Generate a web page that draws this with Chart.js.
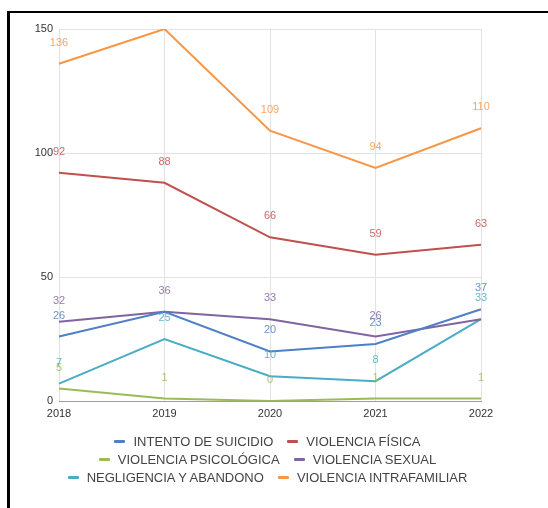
<!DOCTYPE html>
<html>
<head>
<meta charset="utf-8">
<script src="https://cdn.jsdelivr.net/npm/chart.js@4.4.0/dist/chart.umd.min.js"></script>
<style>
  html, body { margin: 0; padding: 0; background: #fff; }
  #wrap { position: relative; width: 548px; height: 508px; overflow: hidden; }
  #frame { position: absolute; left: 7px; top: 11px; width: 600px; height: 600px;
           border-left: 3px solid #000; border-top: 2px solid #000; box-sizing: border-box; }
  #c { position: absolute; left: 0; top: 0; }
  #legend { position: absolute; left: 0; top: 432px; width: 535px;
            font-family: "Liberation Sans", Arial, sans-serif; font-size: 13px; color: #444; }
  .row { display: flex; justify-content: center; align-items: center; height: 18px; }
  .item { display: flex; align-items: center; margin: 0 7px; white-space: nowrap; }
  .mk { width: 11px; height: 3px; border-radius: 1px; margin-right: 8px; }
</style>
</head>
<body>
<div id="wrap">
  <div id="frame"></div>
  <canvas id="c" width="548" height="508"></canvas>
  <div id="legend"></div>
</div>
<script>
const years = ['2018', '2019', '2020', '2021', '2022'];
const seriesNames = ['INTENTO DE SUICIDIO', 'VIOLENCIA FÍSICA', 'VIOLENCIA PSICOLÓGICA',
                     'VIOLENCIA SEXUAL', 'NEGLIGENCIA Y ABANDONO', 'VIOLENCIA INTRAFAMILIAR'];
const intentoSuicidio = [26, 36, 20, 23, 37];
const violenciaFisica = [92, 88, 66, 59, 63];
const violenciaPsicologica = [5, 1, 0, 1, 1];
const violenciaSexual = [32, 36, 33, 26, 33];
const negligenciaAbandono = [7, 25, 10, 8, 33];
const violenciaIntrafamiliar = [136, 150, 109, 94, 110];
const yTicks = [0, 50, 100, 150];
const colors = ['#4f7fc6', '#c0504d', '#9bbb59', '#8064a2', '#4bacc6', '#f79646'];

const allValues = [intentoSuicidio, violenciaFisica, violenciaPsicologica,
                   violenciaSexual, negligenciaAbandono, violenciaIntrafamiliar];

const datasets = allValues.map((vals, i) => ({
  label: seriesNames[i],
  data: vals,
  borderColor: colors[i],
  backgroundColor: colors[i],
  borderWidth: 2,
  pointRadius: 0,
  tension: 0,
  fill: false
}));

const labelPlugin = {
  id: 'valueLabels',
  afterDatasetsDraw(chart) {
    const ctx = chart.ctx;
    const a = chart.chartArea;
    // collect labels; where two are at the same spot keep the later one
    const items = new Map();
    chart.data.datasets.forEach((ds, i) => {
      const meta = chart.getDatasetMeta(i);
      meta.data.forEach((pt, j) => {
        const key = Math.round(pt.x) + ',' + Math.round(pt.y);
        items.delete(key);
        items.set(key, { x: pt.x, y: pt.y - 21, text: String(ds.data[j]), color: ds.borderColor });
      });
    });
    ctx.save();
    ctx.beginPath();
    ctx.rect(0, a.top, chart.width, a.bottom - a.top);
    ctx.clip();
    ctx.font = '11px "Liberation Sans", Arial, sans-serif';
    ctx.textAlign = 'center';
    ctx.textBaseline = 'middle';
    ctx.globalAlpha = 0.85;
    items.forEach(it => {
      ctx.fillStyle = it.color;
      ctx.fillText(it.text, it.x, it.y);
    });
    ctx.restore();
  }
};

new Chart(document.getElementById('c'), {
  type: 'line',
  data: { labels: years, datasets },
  options: {
    responsive: false,
    animation: false,
    layout: { padding: { top: 29, left: 0, right: 13, bottom: 0 } },
    plugins: { legend: { display: false }, tooltip: { enabled: false } },
    scales: {
      x: {
        type: 'category',
        offset: false,
        grid: { color: '#e2e2e2', drawTicks: false, lineWidth: 1 },
        border: { display: true, color: '#9e9e9e', width: 1 },
        ticks: { color: '#333', font: { size: 11, family: '"Liberation Sans", Arial, sans-serif' },
                 padding: 6, maxRotation: 0 },
        afterFit: s => { s.height = 107; }
      },
      y: {
        min: 0, max: 150,
        afterBuildTicks: s => { s.ticks = yTicks.map(v => ({ value: v })); },
        grid: { color: c => (c.tick && c.tick.value === 0 ? '#9e9e9e' : '#e2e2e2'), drawTicks: false },
        border: { display: false },
        ticks: { color: '#333', font: { size: 11, family: '"Liberation Sans", Arial, sans-serif' }, padding: 6 },
        afterFit: s => { s.width = 59; }
      },
      y2: {
        position: 'right',
        display: true,
        grid: { display: false, drawTicks: false },
        border: { display: false },
        ticks: { display: false },
        afterFit: s => { s.width = 54; }
      }
    }
  },
  plugins: [labelPlugin]
});

// HTML legend, two items per row
const legend = document.getElementById('legend');
for (let r = 0; r < seriesNames.length; r += 2) {
  const row = document.createElement('div');
  row.className = 'row';
  for (let k = r; k < r + 2 && k < seriesNames.length; k++) {
    const it = document.createElement('div');
    it.className = 'item';
    const mk = document.createElement('span');
    mk.className = 'mk';
    mk.style.background = colors[k];
    const tx = document.createElement('span');
    tx.textContent = seriesNames[k];
    it.appendChild(mk); it.appendChild(tx);
    row.appendChild(it);
  }
  legend.appendChild(row);
}
</script>
</body>
</html>
